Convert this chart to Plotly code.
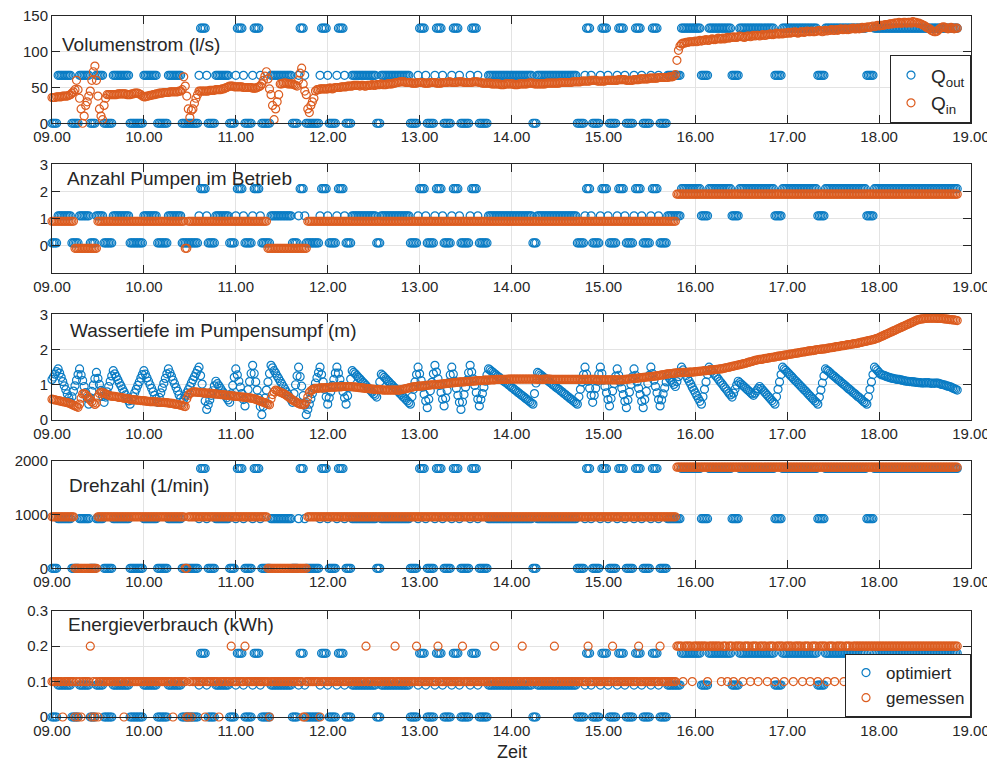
import numpy as np
import plotly.graph_objects as go

BLUE = "#0A7CC4"
ORANGE = "#DC5C1F"
INK = "#262626"
GRID = "#E3E3E3"
FONT = "Liberation Sans, Arial, Helvetica, sans-serif"

# ---------------- data ----------------
start_hour = 9.0
hour_ticks = [9, 10, 11, 12, 13, 14, 15, 16, 17, 18, 19]
hour_labels = ["09.00", "10.00", "11.00", "12.00", "13.00", "14.00",
               "15.00", "16.00", "17.00", "18.00", "19.00"]

# optimised number of pumps, 1-minute samples: (pumps, minutes)
opt_state_runs = [
    (0, 4), (1, 9), (0, 5), (1, 7), (0, 4), (1, 5), (0, 6), (1, 11), (0, 9), (1, 9),
    (0, 7), (1, 9), (0, 11), (1, 1), (2, 4), (1, 1), (0, 5), (1, 9), (0, 4), (1, 1),
    (2, 4), (1, 1), (0, 5), (1, 1), (2, 4), (1, 1), (0, 6), (1, 14), (0, 4), (1, 1),
    (2, 3), (1, 1), (0, 9), (1, 1), (2, 4), (1, 1), (0, 5), (1, 1), (2, 4), (1, 1),
    (0, 4), (1, 16), (0, 3), (1, 19), (0, 5), (1, 1), (2, 4), (1, 1), (0, 5), (1, 1),
    (2, 4), (1, 1), (0, 5), (1, 1), (2, 4), (1, 1), (0, 6), (1, 1), (2, 4), (1, 1),
    (0, 6), (1, 29), (0, 3), (1, 26), (0, 5), (1, 1), (2, 3), (1, 1), (0, 5), (1, 1),
    (2, 4), (1, 1), (0, 5), (1, 1), (2, 4), (1, 1), (0, 5), (1, 1), (2, 4), (1, 1),
    (0, 5), (1, 1), (2, 4), (1, 1), (0, 5), (1, 9), (2, 13), (1, 5), (2, 15), (1, 5),
    (2, 23), (1, 5), (2, 23), (1, 5), (2, 27), (1, 5), (2, 55),
]
# measured number of pumps, 1-minute samples
meas_state_runs = [(1, 15), (0, 15), (1, 57), (0, 2), (1, 52), (0, 26), (1, 241), (2, 184)]

opt_flow_levels = [0, 67, 133]          # l/s for 0/1/2 pumps (optimised)
opt_speed_levels = [0, 925, 1860]       # 1/min
meas_speed_levels = [0, 960, 1885]
opt_energy_levels = [0, 0.09, 0.18]     # kWh per minute
pump_offset_opt = 0.1
pump_offset_meas = -0.1

# measured energy (kWh), 1-minute samples: base runs plus deviating minutes
meas_energy_runs = [(0.1, 408), (0.2, 184)]
meas_energy_zero_min = [7, 15, 17, 19, 26, 28, 30, 47, 79, 88, 89, 91, 100, 109, 142, 164, 165, 175]
meas_energy_high_min = [25, 117, 126, 205, 224, 238, 252, 268, 289, 307, 328, 350, 366, 383, 397]
meas_energy_low_min = [412, 418, 428, 437, 441, 445, 451, 456, 461, 467, 472, 478, 484, 490,
                       495, 500, 506, 511, 517, 522]

# measured inflow Q_in (l/s), 1-minute samples from 09.00 (one row = 10 minutes)
q_in = [
    36, 36, 36, 37, 37, 37, 37, 38, 38, 38,
    38, 39, 40, 42, 44, 47, 60, 47, 35, 20,
    0, 10, 25, 30, 38, 45, 60, 72, 80, 60,
    38, 20, 10, 5, 25, 35, 40, 40, 40, 40,
    40, 40, 40, 41, 41, 41, 41, 41, 41, 40,
    40, 40, 41, 41, 42, 42, 42, 41, 40, 38,
    37, 37, 38, 38, 39, 39, 40, 40, 41, 41,
    42, 42, 42, 43, 43, 43, 43, 44, 44, 44,
    44, 44, 44, 45, 45, 47, 65, 52, 38, 20,
    8, 18, 20, 28, 35, 40, 45, 45, 45, 45,
    45, 45, 45, 46, 46, 46, 46, 47, 47, 47,
    47, 48, 48, 49, 50, 51, 52, 52, 52, 51,
    51, 51, 51, 51, 51, 50, 50, 50, 50, 50,
    50, 49, 49, 49, 50, 51, 52, 55, 60, 66,
    72, 62, 48, 40, 25, 5, 20, 30, 40, 55,
    55, 56, 56, 56, 55, 55, 55, 55, 54, 53,
    52, 60, 70, 77, 55, 45, 40, 20, 15, 25,
    30, 35, 45, 47, 47, 48, 48, 48, 48, 48,
    48, 49, 49, 48, 49, 50, 50, 50, 50, 51,
    51, 51, 51, 52, 52, 52, 52, 53, 53, 53,
    53, 52, 53, 53, 52, 52, 53, 53, 53, 54,
    53, 53, 54, 54, 54, 55, 54, 54, 54, 55,
    55, 55, 55, 56, 56, 57, 57, 58, 58, 58,
    58, 57, 57, 57, 57, 56, 56, 56, 56, 57,
    57, 57, 57, 56, 56, 56, 56, 57, 57, 57,
    57, 56, 56, 56, 56, 57, 57, 57, 57, 58,
    58, 57, 57, 57, 57, 58, 58, 58, 58, 57,
    57, 57, 57, 57, 57, 58, 58, 58, 58, 57,
    57, 56, 56, 56, 56, 56, 56, 55, 55, 55,
    55, 55, 55, 54, 54, 54, 55, 55, 55, 55,
    55, 55, 54, 54, 54, 55, 55, 55, 55, 55,
    55, 56, 56, 56, 56, 55, 55, 55, 55, 55,
    55, 55, 55, 56, 56, 56, 56, 56, 56, 56,
    56, 56, 57, 57, 57, 57, 57, 57, 57, 57,
    58, 58, 58, 58, 58, 58, 59, 59, 59, 59,
    59, 59, 60, 60, 60, 60, 59, 59, 59, 59,
    59, 59, 60, 60, 60, 60, 60, 60, 60, 60,
    61, 61, 61, 61, 61, 60, 60, 60, 60, 60,
    61, 61, 61, 61, 62, 62, 62, 62, 62, 62,
    63, 63, 63, 63, 63, 63, 64, 64, 64, 64,
    64, 64, 64, 65, 65, 65, 66, 68, 88, 102,
    108, 111, 112, 112, 113, 113, 114, 114, 114, 114,
    115, 114, 115, 116, 115, 116, 116, 117, 116, 116,
    117, 118, 117, 117, 118, 119, 118, 118, 119, 118,
    119, 120, 119, 120, 120, 121, 120, 120, 121, 122,
    121, 121, 120, 121, 122, 122, 121, 122, 123, 122,
    123, 123, 122, 123, 124, 123, 123, 124, 124, 125,
    124, 124, 125, 126, 125, 125, 126, 125, 126, 126,
    126, 127, 126, 127, 127, 128, 127, 126, 127, 128,
    128, 127, 128, 129, 128, 128, 129, 128, 128, 129,
    129, 130, 129, 128, 129, 130, 129, 130, 130, 131,
    130, 130, 131, 130, 131, 132, 131, 131, 132, 131,
    131, 132, 132, 133, 132, 132, 133, 132, 133, 134,
    133, 134, 134, 135, 134, 135, 136, 135, 136, 137,
    136, 137, 137, 137, 138, 138, 138, 139, 139, 139,
    140, 140, 140, 141, 140, 140, 141, 141, 140, 141,
    141, 140, 142, 141, 141, 140, 140, 139, 138, 137,
    136, 134, 133, 132, 130, 129, 128, 128, 129, 131,
    133, 134, 135, 134, 133, 132, 133, 134, 133, 132,
    133, 133,
]

# measured water depth (m), 1-minute samples from 09.00 (one row = 10 minutes)
depth_meas = [
    0.59, 0.58, 0.57, 0.56, 0.55, 0.54, 0.53, 0.52, 0.51, 0.50,
    0.49, 0.48, 0.46, 0.44, 0.42, 0.40, 0.38, 0.36, 0.45, 0.62,
    0.74, 0.75, 0.72, 0.68, 0.62, 0.57, 0.52, 0.48, 0.44, 0.48,
    0.65, 0.75, 0.79, 0.78, 0.76, 0.74, 0.72, 0.70, 0.68, 0.68,
    0.67, 0.67, 0.66, 0.65, 0.64, 0.64, 0.63, 0.62, 0.61, 0.61,
    0.60, 0.59, 0.58, 0.58, 0.57, 0.57, 0.56, 0.56, 0.55, 0.55,
    0.54, 0.54, 0.53, 0.53, 0.52, 0.52, 0.52, 0.52, 0.51, 0.51,
    0.50, 0.50, 0.50, 0.50, 0.49, 0.49, 0.48, 0.48, 0.47, 0.47,
    0.45, 0.45, 0.44, 0.43, 0.42, 0.41, 0.39, 0.38, 0.60, 0.70,
    0.75, 0.78, 0.80, 0.80, 0.79, 0.79, 0.78, 0.78, 0.77, 0.77,
    0.76, 0.76, 0.76, 0.76, 0.75, 0.75, 0.74, 0.74, 0.73, 0.73,
    0.72, 0.72, 0.71, 0.71, 0.70, 0.70, 0.69, 0.69, 0.68, 0.68,
    0.67, 0.67, 0.66, 0.66, 0.65, 0.65, 0.64, 0.64, 0.63, 0.63,
    0.62, 0.61, 0.60, 0.59, 0.57, 0.55, 0.53, 0.52, 0.50, 0.49,
    0.47, 0.45, 0.43, 0.60, 0.72, 0.80, 0.85, 0.83, 0.81, 0.79,
    0.77, 0.75, 0.73, 0.70, 0.67, 0.64, 0.60, 0.57, 0.54, 0.52,
    0.49, 0.47, 0.45, 0.44, 0.43, 0.45, 0.52, 0.65, 0.78, 0.83,
    0.86, 0.88, 0.90, 0.90, 0.90, 0.91, 0.91, 0.91, 0.91, 0.92,
    0.92, 0.92, 0.93, 0.93, 0.93, 0.93, 0.94, 0.94, 0.94, 0.94,
    0.95, 0.95, 0.95, 0.95, 0.95, 0.95, 0.94, 0.94, 0.93, 0.93,
    0.92, 0.92, 0.91, 0.91, 0.90, 0.90, 0.89, 0.89, 0.88, 0.88,
    0.87, 0.87, 0.86, 0.86, 0.86, 0.86, 0.85, 0.85, 0.85, 0.85,
    0.85, 0.85, 0.85, 0.85, 0.85, 0.85, 0.85, 0.85, 0.86, 0.87,
    0.88, 0.89, 0.90, 0.91, 0.92, 0.93, 0.94, 0.95, 0.95, 0.96,
    0.96, 0.96, 0.97, 0.97, 0.98, 0.98, 0.99, 0.99, 1.00, 1.00,
    1.00, 1.00, 1.01, 1.01, 1.02, 1.02, 1.03, 1.03, 1.04, 1.04,
    1.05, 1.05, 1.06, 1.06, 1.07, 1.07, 1.08, 1.08, 1.08, 1.08,
    1.09, 1.09, 1.10, 1.10, 1.10, 1.10, 1.11, 1.11, 1.12, 1.12,
    1.12, 1.12, 1.13, 1.13, 1.13, 1.13, 1.14, 1.14, 1.14, 1.14,
    1.15, 1.15, 1.15, 1.15, 1.15, 1.15, 1.15, 1.15, 1.16, 1.16,
    1.16, 1.16, 1.16, 1.16, 1.16, 1.16, 1.16, 1.16, 1.16, 1.16,
    1.16, 1.16, 1.16, 1.16, 1.16, 1.16, 1.16, 1.15, 1.15, 1.15,
    1.15, 1.15, 1.16, 1.16, 1.16, 1.16, 1.15, 1.15, 1.15, 1.15,
    1.15, 1.15, 1.15, 1.15, 1.15, 1.15, 1.15, 1.15, 1.15, 1.15,
    1.15, 1.15, 1.15, 1.15, 1.15, 1.15, 1.15, 1.15, 1.15, 1.15,
    1.15, 1.15, 1.15, 1.15, 1.15, 1.15, 1.14, 1.14, 1.14, 1.14,
    1.14, 1.14, 1.14, 1.14, 1.14, 1.14, 1.14, 1.14, 1.14, 1.14,
    1.14, 1.14, 1.14, 1.14, 1.15, 1.15, 1.16, 1.16, 1.17, 1.17,
    1.18, 1.18, 1.19, 1.19, 1.20, 1.20, 1.21, 1.21, 1.22, 1.22,
    1.23, 1.23, 1.24, 1.24, 1.25, 1.25, 1.26, 1.27, 1.28, 1.28,
    1.29, 1.30, 1.31, 1.31, 1.32, 1.32, 1.33, 1.33, 1.34, 1.34,
    1.34, 1.34, 1.35, 1.35, 1.35, 1.35, 1.36, 1.36, 1.36, 1.36,
    1.37, 1.37, 1.38, 1.38, 1.39, 1.39, 1.40, 1.40, 1.41, 1.41,
    1.42, 1.42, 1.43, 1.43, 1.44, 1.44, 1.45, 1.45, 1.46, 1.47,
    1.48, 1.49, 1.50, 1.51, 1.52, 1.53, 1.54, 1.55, 1.56, 1.57,
    1.58, 1.59, 1.60, 1.61, 1.63, 1.64, 1.65, 1.66, 1.68, 1.69,
    1.70, 1.71, 1.72, 1.72, 1.73, 1.74, 1.75, 1.75, 1.76, 1.77,
    1.78, 1.78, 1.79, 1.80, 1.81, 1.81, 1.82, 1.83, 1.84, 1.84,
    1.85, 1.86, 1.87, 1.87, 1.88, 1.89, 1.90, 1.90, 1.91, 1.92,
    1.93, 1.93, 1.94, 1.95, 1.96, 1.96, 1.97, 1.97, 1.98, 1.99,
    2.00, 2.00, 2.01, 2.01, 2.02, 2.02, 2.03, 2.04, 2.05, 2.05,
    2.06, 2.07, 2.08, 2.08, 2.09, 2.10, 2.11, 2.11, 2.12, 2.13,
    2.14, 2.14, 2.15, 2.16, 2.17, 2.17, 2.18, 2.19, 2.20, 2.21,
    2.22, 2.23, 2.24, 2.25, 2.26, 2.27, 2.28, 2.29, 2.31, 2.32,
    2.34, 2.36, 2.38, 2.40, 2.42, 2.44, 2.46, 2.48, 2.50, 2.52,
    2.54, 2.56, 2.58, 2.60, 2.62, 2.64, 2.66, 2.68, 2.70, 2.72,
    2.74, 2.76, 2.78, 2.80, 2.82, 2.84, 2.85, 2.86, 2.87, 2.87,
    2.88, 2.88, 2.89, 2.89, 2.89, 2.89, 2.89, 2.89, 2.88, 2.88,
    2.88, 2.88, 2.87, 2.87, 2.86, 2.86, 2.85, 2.85, 2.84, 2.84,
    2.83, 2.82,
]

# optimised water depth (m), 1-minute samples from 09.00
depth_opt = [
    1.15, 1.22, 1.30, 1.37, 1.45, 1.33, 1.21, 1.09, 0.97, 0.86, 0.74, 0.62, 0.50, 0.66, 0.82,
    0.97, 1.13, 1.29, 1.45, 1.28, 1.12, 0.95, 0.78, 0.62, 0.45, 0.63, 0.81, 0.99, 1.17, 1.35,
    1.18, 1.01, 0.84, 0.67, 0.50, 0.65, 0.80, 0.95, 1.10, 1.25, 1.40, 1.31, 1.23, 1.14, 1.05,
    0.97, 0.88, 0.80, 0.71, 0.62, 0.54, 0.45, 0.56, 0.66, 0.77, 0.87, 0.98, 1.08, 1.19, 1.29,
    1.40, 1.30, 1.20, 1.10, 1.00, 0.90, 0.80, 0.70, 0.60, 0.50, 0.64, 0.77, 0.91, 1.04, 1.18,
    1.31, 1.45, 1.34, 1.24, 1.13, 1.03, 0.92, 0.82, 0.71, 0.61, 0.50, 0.59, 0.68, 0.77, 0.86,
    0.95, 1.05, 1.14, 1.23, 1.32, 1.41, 1.50, 1.26, 1.02, 0.78, 0.54, 0.30, 0.43, 0.57, 0.70,
    0.83, 0.97, 1.10, 1.03, 0.97, 0.90, 0.83, 0.77, 0.70, 0.63, 0.57, 0.50, 0.74, 0.98, 1.21,
    1.45, 1.28, 1.10, 0.93, 0.75, 0.58, 0.40, 0.63, 0.86, 1.09, 1.32, 1.55, 1.32, 1.08, 0.85,
    0.62, 0.38, 0.15, 0.38, 0.62, 0.85, 1.08, 1.32, 1.55, 1.48, 1.40, 1.33, 1.25, 1.18, 1.10,
    1.03, 0.95, 0.88, 0.80, 0.73, 0.65, 0.58, 0.50, 0.75, 1.00, 1.25, 1.50, 1.23, 0.96, 0.69,
    0.42, 0.15, 0.30, 0.45, 0.60, 0.75, 0.90, 1.05, 1.20, 1.35, 1.50, 1.29, 1.08, 0.87, 0.66,
    0.45, 0.63, 0.80, 0.98, 1.15, 1.33, 1.50, 1.33, 1.15, 0.98, 0.80, 0.63, 0.45, 0.69, 0.93,
    1.16, 1.40, 1.35, 1.31, 1.26, 1.21, 1.17, 1.12, 1.07, 1.03, 0.98, 0.93, 0.88, 0.84, 0.79,
    0.74, 0.70, 0.65, 0.87, 1.08, 1.30, 1.26, 1.21, 1.17, 1.12, 1.08, 1.03, 0.99, 0.94, 0.90,
    0.85, 0.81, 0.76, 0.72, 0.67, 0.63, 0.58, 0.54, 0.49, 0.45, 0.66, 0.87, 1.08, 1.29, 1.50,
    1.31, 1.12, 0.93, 0.73, 0.54, 0.35, 0.59, 0.83, 1.07, 1.31, 1.55, 1.36, 1.17, 0.98, 0.78,
    0.59, 0.40, 0.62, 0.84, 1.06, 1.28, 1.50, 1.30, 1.10, 0.90, 0.70, 0.50, 0.30, 0.51, 0.72,
    0.93, 1.13, 1.34, 1.55, 1.36, 1.17, 0.98, 0.78, 0.59, 0.40, 0.58, 0.75, 0.93, 1.10, 1.28,
    1.45, 1.42, 1.38, 1.35, 1.31, 1.28, 1.24, 1.21, 1.17, 1.14, 1.10, 1.07, 1.04, 1.00, 0.97,
    0.93, 0.90, 0.86, 0.83, 0.79, 0.76, 0.72, 0.69, 0.66, 0.62, 0.59, 0.55, 0.52, 0.48, 0.45,
    0.75, 1.05, 1.35, 1.32, 1.28, 1.25, 1.21, 1.18, 1.14, 1.11, 1.07, 1.04, 1.00, 0.97, 0.93,
    0.90, 0.87, 0.83, 0.80, 0.76, 0.73, 0.69, 0.66, 0.62, 0.59, 0.55, 0.52, 0.48, 0.45, 0.66,
    0.87, 1.08, 1.29, 1.50, 1.30, 1.10, 0.90, 0.70, 0.50, 0.70, 0.90, 1.10, 1.30, 1.50, 1.32,
    1.13, 0.95, 0.77, 0.58, 0.40, 0.61, 0.82, 1.03, 1.24, 1.45, 1.27, 1.08, 0.90, 0.72, 0.53,
    0.35, 0.57, 0.79, 1.01, 1.23, 1.45, 1.27, 1.08, 0.90, 0.72, 0.53, 0.35, 0.58, 0.81, 1.04,
    1.27, 1.50, 1.32, 1.13, 0.95, 0.77, 0.58, 0.40, 0.57, 0.74, 0.91, 1.08, 1.25, 1.19, 1.13,
    1.07, 1.01, 0.95, 1.09, 1.23, 1.36, 1.50, 1.42, 1.34, 1.26, 1.18, 1.10, 1.02, 0.93, 0.85,
    0.77, 0.69, 0.61, 0.53, 0.45, 0.66, 0.87, 1.08, 1.29, 1.50, 1.44, 1.39, 1.33, 1.27, 1.22,
    1.16, 1.10, 1.05, 0.99, 0.93, 0.88, 0.82, 0.76, 0.71, 0.65, 0.76, 0.88, 0.99, 1.10, 1.06,
    1.02, 0.98, 0.94, 0.90, 0.86, 0.82, 0.78, 0.74, 0.70, 0.76, 0.83, 0.89, 0.95, 0.90, 0.85,
    0.80, 0.75, 0.70, 0.65, 0.60, 0.55, 0.50, 0.45, 0.66, 0.87, 1.08, 1.29, 1.50, 1.45, 1.41,
    1.36, 1.32, 1.27, 1.23, 1.18, 1.13, 1.09, 1.04, 1.00, 0.95, 0.91, 0.86, 0.82, 0.77, 0.72,
    0.68, 0.63, 0.59, 0.54, 0.50, 0.45, 0.65, 0.85, 1.05, 1.25, 1.45, 1.41, 1.38, 1.34, 1.30,
    1.26, 1.23, 1.19, 1.15, 1.12, 1.08, 1.04, 1.01, 0.97, 0.93, 0.89, 0.86, 0.82, 0.78, 0.75,
    0.71, 0.67, 0.64, 0.60, 0.56, 0.52, 0.49, 0.45, 0.66, 0.87, 1.08, 1.29, 1.50, 1.45, 1.40,
    1.35, 1.30, 1.28, 1.27, 1.25, 1.23, 1.22, 1.20, 1.19, 1.18, 1.17, 1.16, 1.15, 1.15, 1.14,
    1.13, 1.12, 1.11, 1.10, 1.10, 1.09, 1.09, 1.08, 1.08, 1.07, 1.07, 1.06, 1.06, 1.05, 1.05,
    1.06, 1.05, 1.06, 1.05, 1.04, 1.05, 1.04, 1.05, 1.05, 1.04, 1.02, 1.01, 1.00, 0.99, 0.97,
    0.96, 0.95, 0.93, 0.91, 0.89, 0.87, 0.85,
]


# ---------------- expand the tabulated values ----------------
def expand(runs):
    out = []
    for value, n in runs:
        out += [value] * n
    return np.array(out)


opt_state = expand(opt_state_runs)
meas_state = expand(meas_state_runs)
meas_energy = expand(meas_energy_runs).astype(float)
meas_energy[meas_energy_zero_min] = 0.0
meas_energy[meas_energy_high_min] = 0.2
meas_energy[meas_energy_low_min] = 0.1


def minutes_axis(values):
    return start_hour + np.arange(len(values)) / 60.0


t_opt = minutes_axis(opt_state)
t_meas = minutes_axis(meas_state)
t_dopt = minutes_axis(depth_opt)
t_qin = minutes_axis(q_in)
t_dmeas = minutes_axis(depth_meas)

q_out = np.array(opt_flow_levels)[opt_state]
speed_opt = np.array(opt_speed_levels)[opt_state]
speed_meas = np.array(meas_speed_levels)[meas_state]
energy_opt = np.array(opt_energy_levels)[opt_state]

# ---------------- figure ----------------
fig = go.Figure()


def axis_names(row):
    return ("x", "y") if row == 1 else (f"x{row}", f"y{row}")


def add(row, x, y, color, name=None, legend="legend"):
    xa, ya = axis_names(row)
    fig.add_trace(go.Scatter(
        x=x, y=y, mode="markers", name=name or "",
        showlegend=name is not None, legend=legend,
        marker=dict(symbol="circle-open", size=8, color=color,
                    line=dict(width=1.2, color=color)),
        cliponaxis=False, xaxis=xa, yaxis=ya, hoverinfo="skip"))


add(1, t_opt, q_out, BLUE, "Q<sub>out</sub>", "legend")
add(1, t_qin, q_in, ORANGE, "Q<sub>in</sub>", "legend")
add(2, t_opt, opt_state + pump_offset_opt, BLUE)
add(2, t_meas, meas_state + pump_offset_meas, ORANGE)
add(3, t_dopt, depth_opt, BLUE)
add(3, t_dmeas, depth_meas, ORANGE)
add(4, t_opt, speed_opt, BLUE)
add(4, t_meas, speed_meas, ORANGE)
add(5, t_opt, energy_opt, BLUE, "optimiert", "legend2")
add(5, t_meas, meas_energy, ORANGE, "gemessen", "legend2")

domains = [(0.847, 1.0), (0.6338, 0.7884), (0.4237, 0.5745), (0.2121, 0.3652), (0.0, 0.1516)]
yranges = [[0, 150], [-1, 3], [0, 3], [0, 2000], [0, 0.3]]
ytickvals = [[0, 50, 100, 150], [0, 1, 2, 3], [0, 1, 2, 3], [0, 1000, 2000], [0, 0.1, 0.2, 0.3]]
yticktext = [["0", "50", "100", "150"], ["0", "1", "2", "3"], ["0", "1", "2", "3"],
             ["0", "1000", "2000"], ["0", "0.1", "0.2", "0.3"]]
titles = ["Volumenstrom (l/s)", "Anzahl Pumpen im Betrieb", "Wassertiefe im Pumpensumpf (m)",
          "Drehzahl (1/min)", "Energieverbrauch (kWh)"]
title_pos = [(9.09, 109.5), (9.145, 2.48), (9.175, 2.55), (9.165, 1552), (9.155, 0.26)]

common = dict(showline=True, linecolor=INK, linewidth=1, mirror="ticks",
              ticks="inside", ticklen=8, tickcolor=INK, tickwidth=1,
              showgrid=True, gridcolor=GRID, gridwidth=1, zeroline=False,
              automargin=False, ticklabeloverflow="allow",
              tickfont=dict(family=FONT, size=15, color=INK))

# The page body has an 8 px margin, so the figure is 8 px smaller than the window.
layout = dict(
    width=987, height=755,
    margin=dict(l=44, r=24, t=8, b=46, autoexpand=False),
    paper_bgcolor="white", plot_bgcolor="white",
    font=dict(family=FONT, color=INK),
    showlegend=True,
    legend=dict(x=1, xanchor="right", y=domains[0][0], yanchor="bottom",
                bgcolor="white", bordercolor=INK, borderwidth=1,
                font=dict(family=FONT, size=19, color=INK), tracegroupgap=0,
                itemwidth=30, entrywidth=52),
    legend2=dict(x=1, xanchor="right", y=0, yanchor="bottom",
                 bgcolor="white", bordercolor=INK, borderwidth=1,
                 font=dict(family=FONT, size=17, color=INK), tracegroupgap=0,
                 itemwidth=30, entrywidth=100),
)

annotations = []
for i in range(5):
    row = i + 1
    xa, ya = axis_names(row)
    xkey = "xaxis" if row == 1 else f"xaxis{row}"
    ykey = "yaxis" if row == 1 else f"yaxis{row}"
    layout[xkey] = dict(common, domain=[0, 1], anchor=ya, range=[9, 19],
                        tickvals=hour_ticks, ticktext=hour_labels)
    layout[ykey] = dict(common, domain=list(domains[i]), anchor=xa, range=yranges[i],
                        tickvals=ytickvals[i], ticktext=yticktext[i])
    annotations.append(dict(x=title_pos[i][0], y=title_pos[i][1], xref=xa, yref=ya,
                            text=titles[i], showarrow=False, xanchor="left",
                            yanchor="middle",
                            font=dict(family=FONT, size=19, color=INK)))

annotations.append(dict(x=0.5, y=-0.05, xref="paper", yref="paper", text="Zeit",
                        showarrow=False, xanchor="center", yanchor="middle",
                        font=dict(family=FONT, size=18, color=INK)))
layout["annotations"] = annotations

fig.update_layout(**layout)
fig.write_html("out.html")
